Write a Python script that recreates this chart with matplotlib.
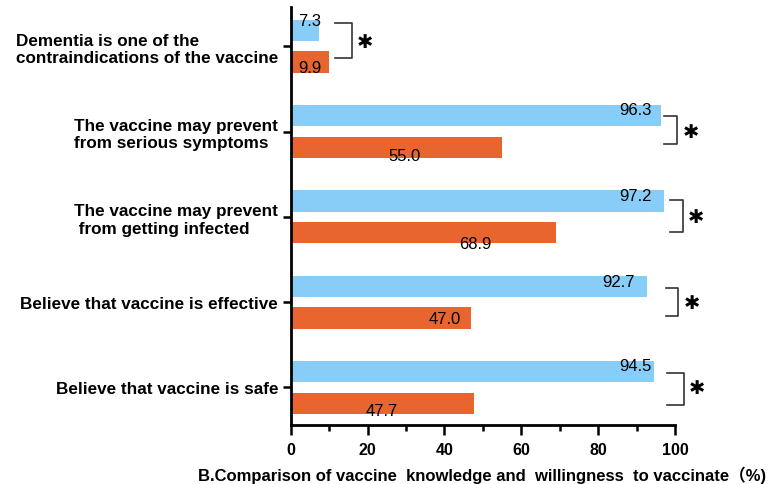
import numpy as np
import matplotlib
matplotlib.use("Agg")
import matplotlib.pyplot as plt

categories = [
    "Dementia is one of the\ncontraindications of the vaccine",
    "The vaccine may prevent\nfrom serious symptoms",
    "The vaccine may prevent\n from getting infected",
    "Believe that vaccine is effective",
    "Believe that vaccine is safe",
]
group1 = [7.3, 96.3, 97.2, 92.7, 94.5]
group2 = [9.9, 55.0, 68.9, 47.0, 47.7]
xticks = [0, 20, 40, 60, 80, 100]
star_text = "\u2731"

blue = "#87CDF8"
orange = "#E8652F"

# where the value labels sit (x in %, baseline offset from the category row)
lab1_x = [5.0, 89.8, 89.8, 85.2, 89.8]
lab1_dy = [-0.246, -0.203, -0.195, -0.195, -0.20]
lab2_x = [5.0, 29.6, 48.0, 40.2, 23.7]
lab2_dy = [0.305, 0.336, 0.36, 0.239, 0.317]

# significance brackets: x0, x1, top, bottom, star x, star dy
brackets = [
    (11.5, 15.9, -0.27, 0.14, 19.3, -0.05),
    (97.1, 100.6, -0.183, 0.152, 104.1, 0.0),
    (98.6, 102.0, -0.203, 0.18, 105.4, 0.0),
    (97.6, 100.8, -0.168, 0.167, 104.3, 0.0),
    (98.0, 102.2, -0.164, 0.20, 105.6, 0.0),
]

plt.rcParams["font.family"] = ["Liberation Sans", "DejaVu Sans"]

fig = plt.figure(figsize=(7.68, 4.85), dpi=100)
ax = fig.add_axes([0.3785, 0.1216, 0.5005, 0.862])

y = np.arange(len(categories))
off = 0.185
h = 0.25
ax.barh(y - off, group1, height=h, color=blue)
ax.barh(y + off, group2, height=h, color=orange)

for i in range(len(categories)):
    ax.text(lab1_x[i], y[i] + lab1_dy[i], f"{group1[i]:.1f}", ha="center",
            va="baseline", fontsize=12, color="black")
    ax.text(lab2_x[i], y[i] + lab2_dy[i], f"{group2[i]:.1f}", ha="center",
            va="baseline", fontsize=12, color="black")

    x0, x1, top, bot, sx, sdy = brackets[i]
    ax.plot([x0, x1, x1, x0], [y[i] + top, y[i] + top, y[i] + bot, y[i] + bot],
            color="#333333", lw=1.2, clip_on=False)
    ax.text(sx, y[i] + sdy, star_text, ha="center", va="center", fontsize=14,
            family="DejaVu Sans", fontweight="bold", clip_on=False)

ax.set_xlim(0, 100)
ax.set_ylim(4.44, -0.46)
ax.set_yticks(y)
ax.set_yticklabels(categories, fontsize=12.3, fontweight="bold",
                   multialignment="left")
ax.set_xticks(xticks)
ax.set_xticklabels([str(t) for t in xticks], fontsize=11.5, fontweight="bold")
ax.set_xticks(np.arange(10, 100, 20), minor=True)

ax.spines["top"].set_visible(False)
ax.spines["right"].set_visible(False)
ax.spines["left"].set_linewidth(2)
ax.spines["bottom"].set_linewidth(2)
ax.tick_params(axis="y", length=6, width=1.8, pad=3)
ax.tick_params(axis="x", which="major", length=7, width=1.8, pad=5)
ax.tick_params(axis="x", which="minor", length=4.5, width=1.8)

fig.text(198 / 768, 1 - 475 / 485,
         "B.Comparison of vaccine  knowledge and  willingness  to vaccinate\uff08%)",
         ha="left", va="center", fontsize=12, fontweight="bold",
         family=["Liberation Sans", "Noto Sans CJK SC"])

fig.savefig("out.png", dpi=100)
